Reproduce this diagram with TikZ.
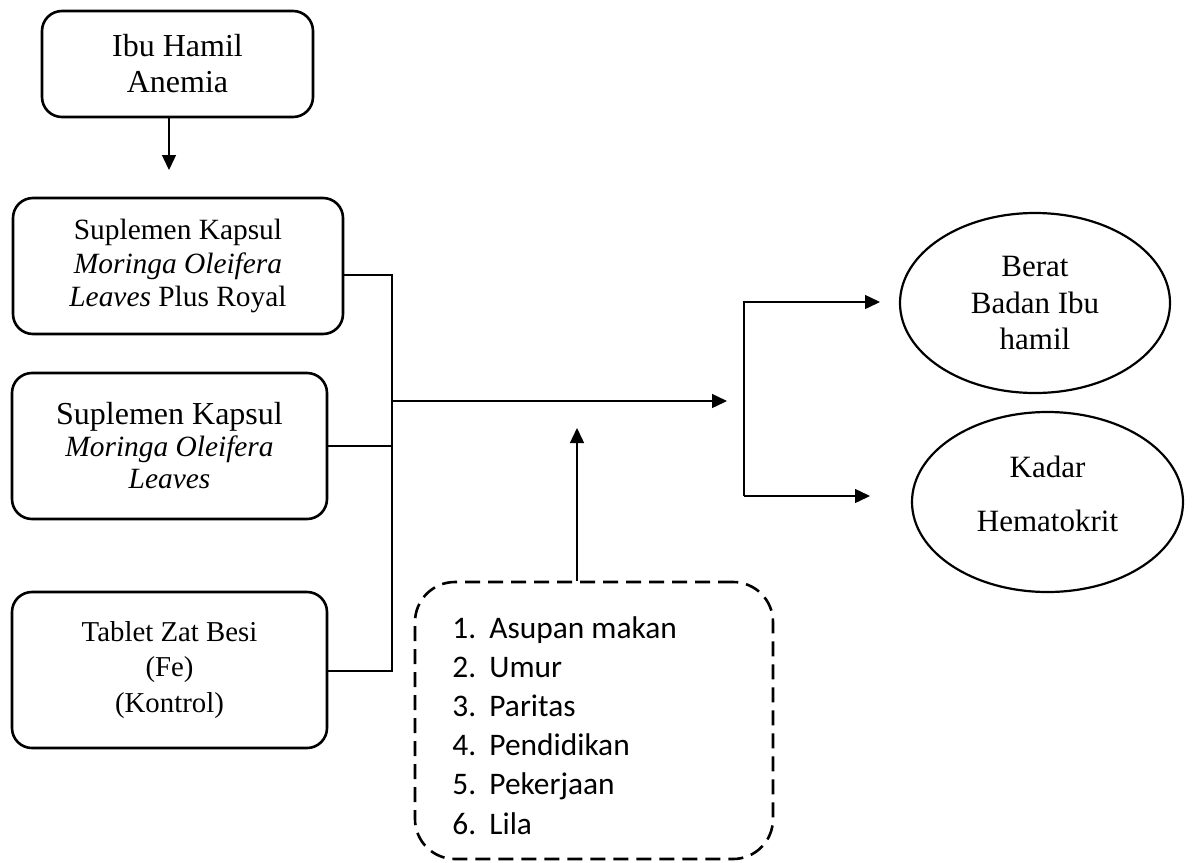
\documentclass[tikz,border=0pt]{standalone}
\usepackage{fontspec}
\setmainfont{Liberation Serif}
\newfontfamily\calfont{Carlito}
\usetikzlibrary{shapes.geometric,arrows.meta}
\begin{document}
\begin{tikzpicture}[x=0.5pt,y=-0.5pt,
  solidbox/.style={draw, line width=1.3pt, rounded corners=10pt, inner sep=0pt, align=center},
  oval/.style={draw, ellipse, line width=1.1pt, inner sep=0pt, align=center},
  conn/.style={line width=0.7pt},
  arr/.style={line width=0.7pt, -{Triangle[length=7.5pt,width=7pt]}},
  item/.style={anchor=base west, inner sep=0pt, font=\calfont\fontsize{15.7pt}{19.6pt}\selectfont}
]
\useasboundingbox (0,0) rectangle (1193,862);

% boxes
\node[solidbox, minimum width=135.5pt, minimum height=53pt,
      font=\fontsize{16pt}{18pt}\selectfont] (b1) at (177.5,64) {Ibu Hamil\\Anemia};
\node[solidbox, minimum width=165pt, minimum height=68pt,
      font=\fontsize{14.7pt}{16.75pt}\selectfont] (b2) at (178,266)
      {Suplemen Kapsul\\\textit{Moringa Oleifera}\\\textit{Leaves} Plus Royal};
\node[solidbox, minimum width=157.5pt, minimum height=73pt,
      font=\fontsize{14.7pt}{16pt}\selectfont] (b3) at (169.5,446)
      {{\fontsize{16pt}{18pt}\selectfont Suplemen Kapsul}\\\textit{Moringa Oleifera}\\\textit{Leaves}};
\node[solidbox, minimum width=157.5pt, minimum height=78pt,
      font=\fontsize{14.4pt}{17.7pt}\selectfont] (b4) at (169.5,670)
      {Tablet Zat Besi\\(Fe)\\(Kontrol)};

% outcomes
\node[oval, minimum width=135pt, minimum height=90pt,
      font=\fontsize{15.5pt}{18.25pt}\selectfont] (e1) at (1035,303) {Berat\\Badan Ibu\\hamil};
\node[oval, minimum width=135.5pt, minimum height=90pt] (e2) at (1047.5,502) {};
\node[inner sep=0pt, align=center, font=\fontsize{15.5pt}{27pt}\selectfont]
      (e2t) at (1047.5,494) {Kadar\\Hematokrit};

% confounders
\node[draw, dash pattern=on 7.5pt off 4pt, line width=1.3pt, rounded corners=20pt,
      minimum width=179pt, minimum height=138.5pt, inner sep=0pt] (d) at (594,720.5) {};
\foreach \n/\t [count=\i] in {1./Asupan makan,2./Umur,3./Paritas,4./Pendidikan,5./Pekerjaan,6./Lila}
  \node[item] (l\i) at (452,{638+39.2*(\i-1)}) {\makebox[18.5pt][l]{\n}\t};

% coordinates
\coordinate (a1e) at (169,170);
\coordinate (bt) at (392,275);
\coordinate (bb) at (392,671);
\coordinate (jm) at (392,401);
\coordinate (mt) at (727,401);
\coordinate (ut) at (577,428);
\coordinate (f1) at (744,302);
\coordinate (f2) at (744,496);
\coordinate (t1) at (880,302);
\coordinate (t2) at (870,496);

% connectors
\draw[arr] (b1.south -| a1e) -- (a1e);
\draw[conn] (bt -| b2.east) -- (bt) -- (bb) -- (bb -| b4.east);
\draw[conn] (b3.east) -- (b3.east -| bt);
\draw[arr] (jm) -- (mt);
\draw[arr] (d.north -| ut) -- (ut);
\draw[arr] (f2) -- (f1) -- (t1);
\draw[arr] (f2) -- (t2);
\end{tikzpicture}
\end{document}
